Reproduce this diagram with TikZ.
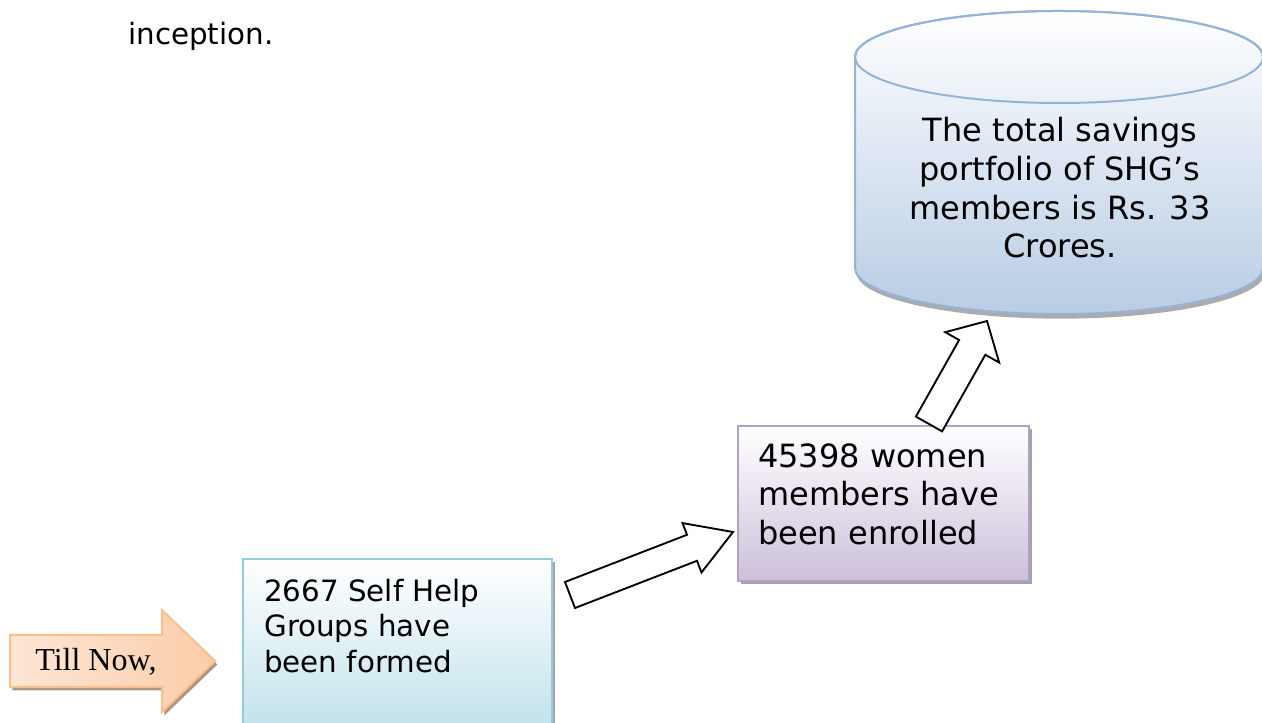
\documentclass[tikz,border=0pt]{standalone}
\usepackage{fontspec}
\setmainfont{DejaVu Sans}
\newfontfamily\timesfont{Liberation Serif}
\usetikzlibrary{shadows}
\definecolor{cylline}{HTML}{95B3D7}
\definecolor{cylfill}{HTML}{B8CCE4}
\definecolor{purline}{HTML}{B2A1C7}
\definecolor{purfill}{HTML}{CCC0DA}
\definecolor{blueline}{HTML}{93CDDD}
\definecolor{bluefill}{HTML}{B6DDE8}
\definecolor{orline}{HTML}{F9BF8F}
\definecolor{orlight}{HTML}{FDE6D4}
\definecolor{ordark}{HTML}{FBCDA9}
\definecolor{orshade}{HTML}{A98A70}
\tikzset{shade box/.style={drop shadow={shadow xshift=2.2pt, shadow yshift=-2.2pt, fill=black!60, opacity=0.6}}}
\tikzset{cyl shade/.style={drop shadow={shadow xshift=1.2pt, shadow yshift=-3.5pt, fill=black!55, opacity=0.6}}}
\tikzset{or shade/.style={drop shadow={shadow xshift=1.8pt, shadow yshift=-2.6pt, fill=orshade, opacity=0.9}}}
\tikzset{factbox/.style={line width=1.5pt, top color=white, shade box, anchor=north west, inner sep=0pt}}
\tikzset{facttext/.style={inner sep=0pt, align=left, anchor=north west}}
\tikzset{blockarrow/.style={draw=black, line width=1.4pt, fill=white, line join=miter}}

\begin{document}
\begin{tikzpicture}[x=0.75pt,y=0.75pt]
      \clip (0,0) rectangle (1262,723);

      \node [anchor=base west, inner sep=0pt, font=\fontsize{22}{26.6}\selectfont] (incep) at (128,678) {inception.};

      % savings drum
      \draw [draw=cylline, line width=1.5pt, top color=white, bottom color=cylfill, cyl shade]
        (855,666) -- (855,455) arc [start angle=180, end angle=360, x radius=204, y radius=46]
        -- (1263,666) arc [start angle=0, end angle=180, x radius=204, y radius=46] -- cycle;
      \draw [draw=cylline, line width=1.5pt] (1059,666) ellipse [x radius=204, y radius=46];
      \node [inner sep=0pt, align=center, anchor=north, font=\fontsize{24}{29}\selectfont] (savings) at (1060,605.6)
        {The total savings\\portfolio of SHG’s\\members is Rs. 33\\Crores.};

      % women members
      \node [factbox, draw=purline, bottom color=purfill, minimum width=218.25pt, minimum height=116.25pt] (members) at (737,298) {};
      \node [facttext, font=\fontsize{24}{28.9}\selectfont] (memtext) at ([shift={(21,-18)}]members.north west)
        {45398 women\\members have\\been enrolled};

      % groups formed
      \node [factbox, draw=blueline, bottom color=bluefill, minimum width=231.75pt, minimum height=150pt] (groups) at (242,165) {};
      \node [facttext, font=\fontsize{22}{26.6}\selectfont] (grptext) at ([shift={(22,-20.6)}]groups.north west)
        {2667 Self Help\\Groups have\\been formed};

      % till now
      \draw [draw=orline, line width=1.5pt, left color=orlight, right color=ordark, or shade]
        (10,36) -- (162,36) -- (162,11) -- (215,62) -- (162,113) -- (162,88) -- (10,88) -- cycle;
      \node [anchor=base, inner sep=0pt, font=\timesfont\fontsize{24}{28}\selectfont] (tillnow) at (96,52.3) {Till Now,};

      \draw [blockarrow] (565,141) -- (575,115) -- (697,162.2) -- (701.5,150.5) -- (733,191) -- (682.5,199.9) -- (687,188.2) -- cycle;
      \draw [blockarrow] (915.9,306.4) -- (942.1,291.6) -- (985.3,368.2) -- (999.2,360.4) -- (987,402) -- (945.2,390.8) -- (959.1,383) -- cycle;
\end{tikzpicture}
\end{document}
